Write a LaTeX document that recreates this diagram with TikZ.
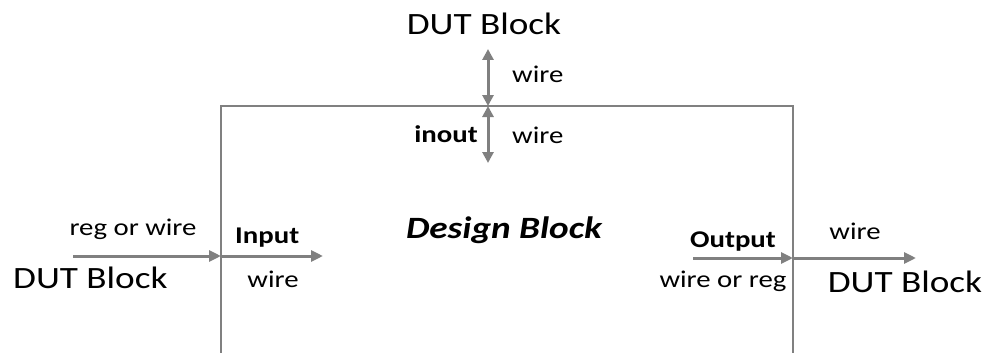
\documentclass[tikz,border=0pt]{standalone}
\usepackage{fontspec}
\setmainfont{Carlito}[FakeStretch=1.2]
\usetikzlibrary{arrows.meta,positioning}

\definecolor{wiregray}{RGB}{128,128,128}

\tikzset{
    pinline/.style={draw=wiregray, line width=2.4pt},
    sig/.style={draw=wiregray, line width=3pt, -{Triangle[length=12pt,width=11pt]}},
    bisig/.style={draw=wiregray, line width=3pt, {Triangle[length=11pt,width=11pt]}-{Triangle[length=11pt,width=11pt]}},
    lbl/.style={inner sep=0pt, font=\fontsize{24}{24}\selectfont},
    port/.style={lbl, font=\fontsize{24}{24}\selectfont\bfseries},
    dut/.style={inner sep=0pt, font=\fontsize{31}{31}\selectfont},
}

\begin{document}
\begin{tikzpicture}[x=1pt, y=-1pt]
    \useasboundingbox (0,0) rectangle (988,353);

    % design block outline (open at the bottom)
    \draw [pinline, line cap=rect] (221,353) |- (793,106) -- (793,353);
    \node [anchor=base, inner sep=0pt, font=\fontsize{31}{31}\selectfont\bfseries\itshape] (design) at (504,238) {Design Block};

    % inout port
    \coordinate (ioTop) at (488,49);
    \coordinate (ioPin) at (488,106);
    \coordinate (ioBot) at (488,163);
    \node [dut, anchor=base] (dutTop) at (484,35) {DUT Block};
    \node [lbl, anchor=base west] (ioWireOut) at (512,83) {wire};
    \node [lbl, anchor=base west] (ioWireIn) at (512,143) {wire};
    \node [port, anchor=base east] (ioPort) at (478,142) {inout};
    \draw [bisig] (ioTop) -- (ioPin);
    \draw [bisig] (ioPin) -- (ioBot);

    % input port
    \coordinate (inSrc) at (73,256);
    \coordinate (inPin) at (221,256);
    \coordinate (inDst) at (323,256);
    \node [dut, anchor=base west] (dutIn) at (13,288) {DUT Block};
    \node [lbl, anchor=base] (inType) at (133,235) {reg or wire};
    \node [port, anchor=base west] (inPort) at (235,243) {Input};
    \node [lbl, anchor=base] (inWire) at (273,287) {wire};
    \draw [sig] (inSrc) -- (inPin);
    \draw [sig] (inPin) -- (inDst);

    % output port
    \coordinate (outSrc) at (693,258);
    \coordinate (outPin) at (793,258);
    \coordinate (outDst) at (916,258);
    \node [port, anchor=base] (outPort) at (733,247) {Output};
    \node [lbl, anchor=base] (outType) at (723,287) {wire or reg};
    \node [lbl, anchor=base] (outWire) at (855,239) {wire};
    \node [dut, anchor=base] (dutOut) at (905,292) {DUT Block};
    \draw [sig] (outSrc) -- (outPin);
    \draw [sig] (outPin) -- (outDst);
\end{tikzpicture}
\end{document}
